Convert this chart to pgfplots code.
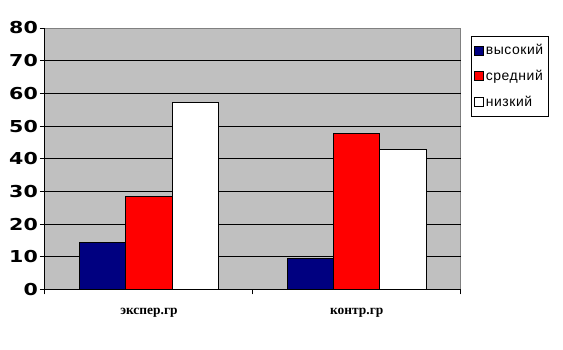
\documentclass[border=0pt]{standalone}
\usepackage{pgfplots}
\pgfplotsset{compat=1.18}
\usepackage{fontspec}
\setmainfont{Liberation Sans}
\newfontfamily\tickfont[FakeStretch=1.25]{DejaVu Sans}
\newfontfamily\catfont{Liberation Serif}
\newfontfamily\legfont[LetterSpace=4]{Liberation Sans}
\definecolor{bgray}{RGB}{192,192,192}
\definecolor{bordergray}{RGB}{128,128,128}
\definecolor{navyb}{RGB}{0,0,128}
\begin{document}
\begin{tikzpicture}
\path[use as bounding box] (-45bp,-60.5bp) rectangle (518bp,289.5bp);
\begin{axis}[
 at={(0,0)}, anchor=south west,
 scale only axis, width=415.7bp, height=261.5bp,
 xmin=-0.5, xmax=1.5, ymin=0, ymax=80,
 ybar=0pt, bar width=46.3bp,
 axis background/.style={fill=bgray, draw=bordergray, line width=1bp},
 axis x line*=bottom, axis y line*=left,
 axis line style={-, black, line width=1bp},
 ytick={0,10,...,70},
 extra y ticks={80}, extra y tick style={grid=none},
 ymajorgrids, major grid style={black, line width=1bp},
 tick align=outside, major tick length=5bp,
 tick style={black, line width=1bp},
 yticklabel style={font=\tickfont\bfseries\fontsize{16.5}{16.5}\selectfont, inner sep=2bp},
 /pgf/number format/assume math mode=true,
 xtick={-0.5,0.5,1.5}, xticklabels={},
 extra x ticks={0,1}, extra x tick labels={экспер.гр, контр.гр},
 extra x tick style={major tick length=0pt, grid=none,
   tick label style={font=\catfont\bfseries\fontsize{13.5}{13.5}\selectfont, yshift=-15bp}},
 legend style={at={(rel axis cs:1.0245,0.969)}, anchor=north west,
   draw=black, line width=0.8bp, fill=white,
   font=\legfont\fontsize{14}{14}\selectfont, inner xsep=3bp, inner ysep=6bp,
   row sep=10bp},
 legend cell align=left,
 legend image code/.code={\draw[#1, line width=0.6bp] (0bp,-4.5bp) rectangle (9bp,4.5bp);},
]
\addplot[fill=navyb, draw=black, line width=1bp] coordinates {(0,14.3) (1,9.5)};
\addplot[fill=red, draw=black, line width=1bp] coordinates {(0,28.6) (1,47.6)};
\addplot[fill=white, draw=black, line width=1bp] coordinates {(0,57.1) (1,42.9)};
\legend{высокий, средний, низкий}
\end{axis}
\end{tikzpicture}
\end{document}
